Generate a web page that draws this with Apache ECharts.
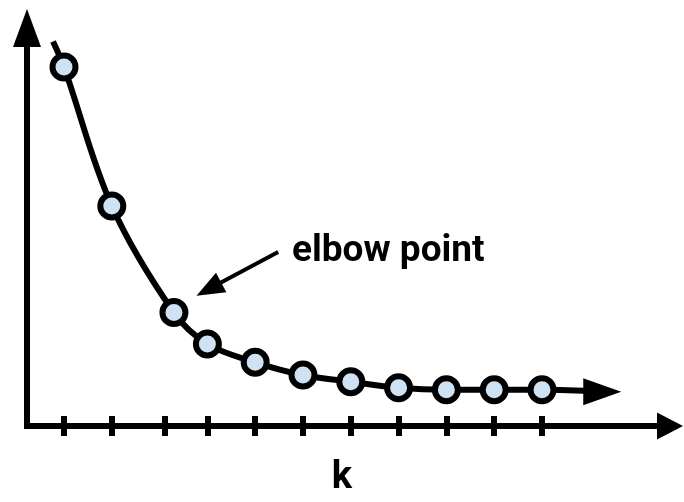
<!DOCTYPE html>
<html>
<head>
<meta charset="utf-8">
<script src="https://cdn.jsdelivr.net/npm/echarts@6/dist/echarts.min.js"></script>
<style>
html,body{margin:0;padding:0;background:#fff;}
#chart{width:684px;height:502px;}
</style>
</head>
<body>
<div id="chart"></div>
<script>
// number of clusters k (x) and distortion (y, arbitrary units)
const kValues    = [1, 2, 3.3, 4, 5, 6, 7, 8, 9, 10, 11];
const distortion = [90.2, 55.3, 28.5, 20.6, 16.0, 12.8, 11.1, 9.6, 9.1, 9.1, 9.1];
// tick marks on the k axis
const tickKs = [1, 2, 3.1, 4, 5, 6, 7, 8, 9, 10, 11];
// curve continues beyond first and last points
const curveStart = [0.77, 96.6];
const curveEnd   = [12.26, 8.6];
// annotation arrow (from, to) in data units
const annotFrom = [5.48, 43.7];
const annotTo   = [4.03, 34.4];
const annotText = 'elbow point';
const axisName = 'k';

const xMin = 0.226, xMax = 13.678, yMin = 0, yMax = 100;

const seriesData = [{value: curveStart, symbol: 'none'}];
kValues.forEach((k, i) => seriesData.push([k, distortion[i]]));
seriesData.push({
  value: curveEnd, symbol: 'triangle', symbolSize: [27, 38], symbolRotate: -90,
  itemStyle: {color: '#000', borderWidth: 0}
});

const chart = echarts.init(document.getElementById('chart'), null, {renderer: 'canvas'});
chart.setOption({
  animation: false,
  backgroundColor: '#fff',
  grid: {left: 27, right: 14, top: 28, bottom: 67, containLabel: false},
  xAxis: [{
    type: 'value', min: xMin, max: xMax, position: 'bottom',
    name: axisName, nameLocation: 'middle', nameGap: 33,
    nameTextStyle: {fontSize: 38, fontWeight: 'bold', fontFamily: 'Roboto', color: '#000', padding: [0, 13, 0, 0]},
    axisLine: {show: true, onZero: false, symbol: ['none', 'triangle'], symbolSize: [27, 26],
      lineStyle: {color: '#000', width: 6, cap: 'square'}},
    axisTick: {show: true, customValues: tickKs, length: 10, lineStyle: {color: '#000', width: 6}},
    axisLabel: {show: false},
    splitLine: {show: false}
  }, {
    type: 'value', min: xMin, max: xMax, position: 'top',
    axisLine: {show: false, onZero: true, onZeroAxisIndex: 0},
    axisTick: {show: true, customValues: tickKs, length: 10, lineStyle: {color: '#000', width: 6}},
    axisLabel: {show: false},
    splitLine: {show: false}
  }],
  yAxis: {
    type: 'value', min: yMin, max: yMax,
    axisLine: {show: true, onZero: false, symbol: ['none', 'triangle'], symbolSize: [28, 38],
      lineStyle: {color: '#000', width: 6, cap: 'square'}},
    axisTick: {show: false},
    axisLabel: {show: false},
    splitLine: {show: false}
  },
  series: [{
    type: 'line',
    xAxisIndex: 0,
    data: seriesData,
    smooth: 0.35,
    symbol: 'circle',
    symbolSize: 23,
    lineStyle: {color: '#000', width: 6},
    itemStyle: {color: '#cfe2f3', borderColor: '#000', borderWidth: 6},
    emphasis: {disabled: true},
    z: 3,
    markLine: {
      silent: true,
      symbol: ['none', 'triangle'],
      symbolSize: [22, 28],
      label: {show: false},
      lineStyle: {color: '#000', width: 4, type: 'solid'},
      emphasis: {disabled: true},
      data: [[{coord: annotFrom}, {coord: annotTo}]]
    }
  }],
  graphic: [{
    type: 'text',
    style: {text: annotText, x: 292, y: 252, font: 'bold 37px Roboto', fill: '#000', verticalAlign: 'middle', align: 'left'}
  }]
});
</script>
</body>
</html>
